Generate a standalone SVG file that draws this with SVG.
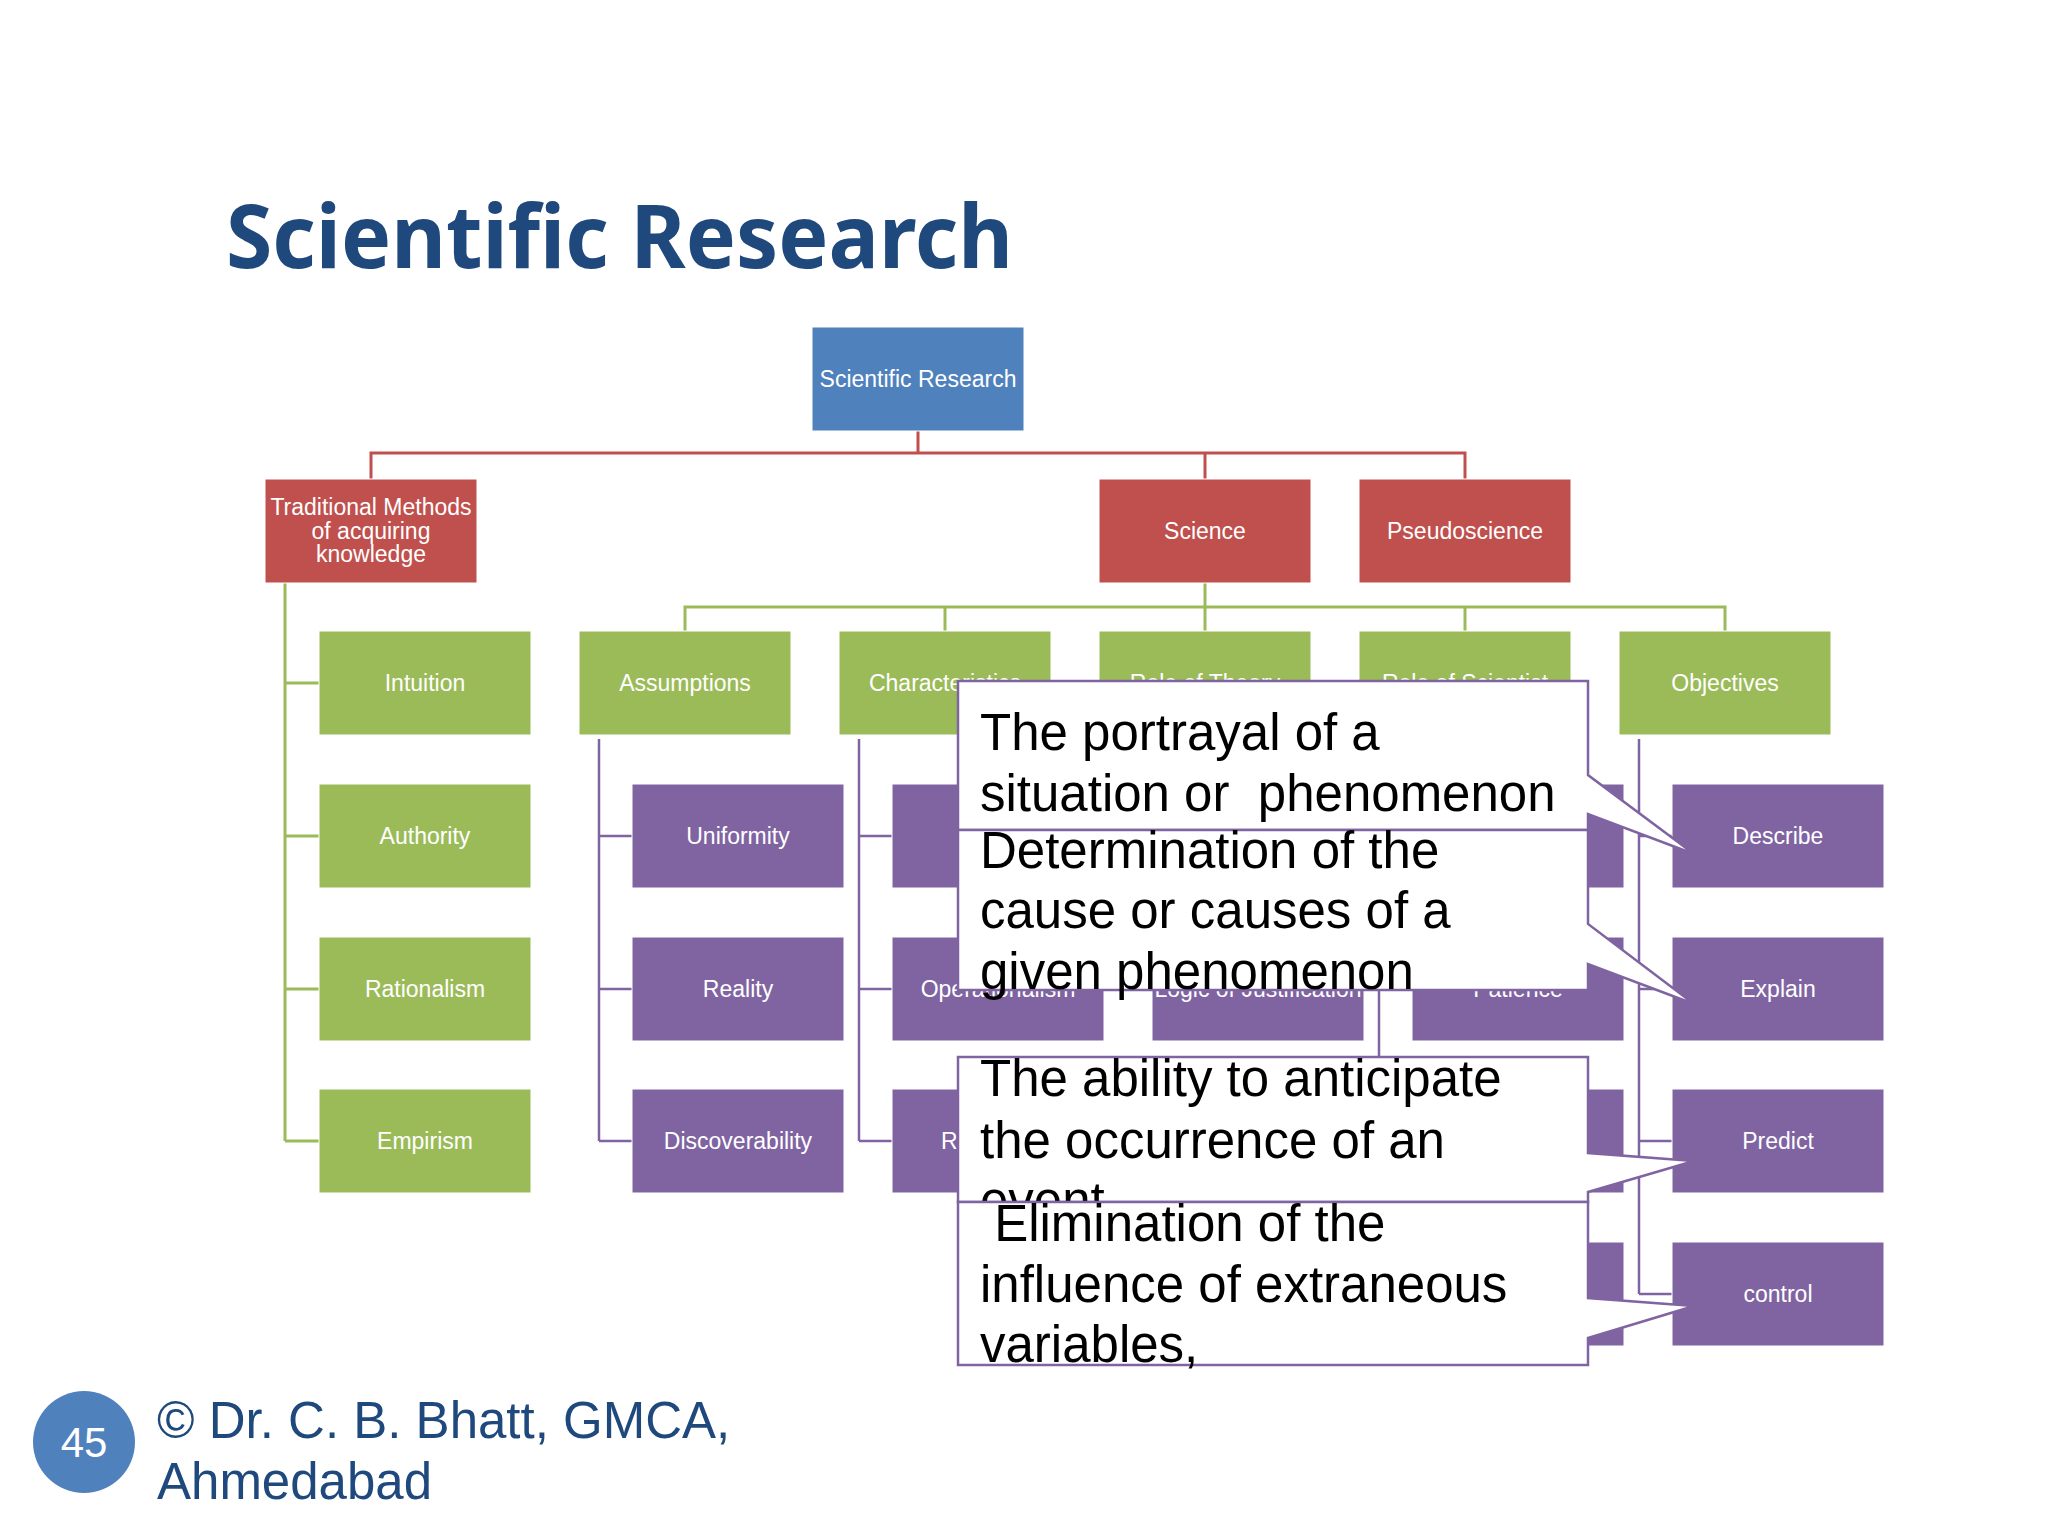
<svg xmlns="http://www.w3.org/2000/svg" width="2048" height="1536" viewBox="0 0 2048 1536">
<style>
.bx{stroke:#ffffff;stroke-width:1}
.blue{fill:#4F81BD}
.red{fill:#C0504D}
.green{fill:#9BBB59}
.purple{fill:#8064A2}
.lbl{font-family:"Liberation Sans",Arial,sans-serif;font-size:23px;fill:#ffffff;text-anchor:middle}
.cr{fill:none;stroke:#C0504D;stroke-width:3}
.cg{fill:none;stroke:#9BBB59;stroke-width:3}
.cp{fill:none;stroke:#8064A2;stroke-width:2.5}
.call{fill:#ffffff;stroke:#8064A2;stroke-width:2.5;stroke-linejoin:miter}
.ct{font-family:"Liberation Sans",Arial,sans-serif;font-size:51px;fill:#000000}
</style>
<rect x="0" y="0" width="2048" height="1536" fill="#ffffff"/>
<text x="226" y="268" font-family="'Noto Sans','Open Sans',sans-serif" font-weight="bold" font-size="88" fill="#1F497D" textLength="787" lengthAdjust="spacingAndGlyphs">Scientific Research</text>

<g id="connectors">
  <path class="cr" d="M918 430 V453 M371 479 V453 H1465 V479 M1205 453 V479"/>
  <path class="cg" d="M1205 583 V607 M685 631 V607 H1725 V631 M945 607 V631 M1205 607 V631 M1465 607 V631"/>
  <path class="cg" d="M285 583 V1141 M285 683 H319 M285 836 H319 M285 989 H319 M285 1141 H319"/>
  <path class="cp" d="M599 739 V1141 M599 836 H632 M599 989 H632 M599 1141 H632"/>
  <path class="cp" d="M859 739 V1141 M859 836 H892 M859 989 H892 M859 1141 H892"/>
  <path class="cp" d="M1379 739 V1294 M1379 836 H1412 M1379 989 H1412 M1379 1141 H1412 M1379 1294 H1412"/>
  <path class="cp" d="M1639 739 V1294 M1639 836 H1672 M1639 989 H1672 M1639 1141 H1672 M1639 1294 H1672"/>
</g>

<g id="n-scientific-research"><rect class="bx blue" x="812" y="327" width="212" height="104"/><text class="lbl" x="918" y="387">Scientific Research</text></g>
<g id="n-traditional"><rect class="bx red" x="265" y="479" width="212" height="104"/><text class="lbl" x="371" y="515">Traditional Methods<tspan x="371" dy="23.5">of acquiring</tspan><tspan x="371" dy="23.5">knowledge</tspan></text></g>
<g id="n-science"><rect class="bx red" x="1099" y="479" width="212" height="104"/><text class="lbl" x="1205" y="539">Science</text></g>
<g id="n-pseudoscience"><rect class="bx red" x="1359" y="479" width="212" height="104"/><text class="lbl" x="1465" y="539">Pseudoscience</text></g>

<g id="n-intuition"><rect class="bx green" x="319" y="631" width="212" height="104"/><text class="lbl" x="425" y="691">Intuition</text></g>
<g id="n-authority"><rect class="bx green" x="319" y="784" width="212" height="104"/><text class="lbl" x="425" y="844">Authority</text></g>
<g id="n-rationalism"><rect class="bx green" x="319" y="937" width="212" height="104"/><text class="lbl" x="425" y="997">Rationalism</text></g>
<g id="n-empirism"><rect class="bx green" x="319" y="1089" width="212" height="104"/><text class="lbl" x="425" y="1149">Empirism</text></g>

<g id="n-assumptions"><rect class="bx green" x="579" y="631" width="212" height="104"/><text class="lbl" x="685" y="691">Assumptions</text></g>
<g id="n-characteristics"><rect class="bx green" x="839" y="631" width="212" height="104"/><text class="lbl" x="945" y="691">Characteristics</text></g>
<g id="n-role-theory"><rect class="bx green" x="1099" y="631" width="212" height="104"/><text class="lbl" x="1205" y="691">Role of Theory</text></g>
<g id="n-role-scientist"><rect class="bx green" x="1359" y="631" width="212" height="104"/><text class="lbl" x="1465" y="691">Role of Scientist</text></g>
<g id="n-objectives"><rect class="bx green" x="1619" y="631" width="212" height="104"/><text class="lbl" x="1725" y="691">Objectives</text></g>

<g id="n-uniformity"><rect class="bx purple" x="632" y="784" width="212" height="104"/><text class="lbl" x="738" y="844">Uniformity</text></g>
<g id="n-reality"><rect class="bx purple" x="632" y="937" width="212" height="104"/><text class="lbl" x="738" y="997">Reality</text></g>
<g id="n-discoverability"><rect class="bx purple" x="632" y="1089" width="212" height="104"/><text class="lbl" x="738" y="1149">Discoverability</text></g>

<g id="n-char-1"><rect class="bx purple" x="892" y="784" width="212" height="104"/></g>
<g id="n-operationalism"><rect class="bx purple" x="892" y="937" width="212" height="104"/><text class="lbl" x="998" y="997">Operationalism</text></g>
<g id="n-replication"><rect class="bx purple" x="892" y="1089" width="212" height="104"/><text class="lbl" x="998" y="1149">Replication</text></g>

<g id="n-logic"><rect class="bx purple" x="1152" y="937" width="212" height="104"/><text class="lbl" x="1258" y="997" font-size="22">Logic of Justification</text></g>

<g id="n-sci-1"><rect class="bx purple" x="1412" y="784" width="212" height="104"/></g>
<g id="n-patience"><rect class="bx purple" x="1412" y="937" width="212" height="104"/><text class="lbl" x="1518" y="997">Patience</text></g>
<g id="n-sci-3"><rect class="bx purple" x="1412" y="1089" width="212" height="104"/></g>
<g id="n-sci-4"><rect class="bx purple" x="1412" y="1242" width="212" height="104"/></g>

<g id="n-describe"><rect class="bx purple" x="1672" y="784" width="212" height="104"/><text class="lbl" x="1778" y="844">Describe</text></g>
<g id="n-explain"><rect class="bx purple" x="1672" y="937" width="212" height="104"/><text class="lbl" x="1778" y="997">Explain</text></g>
<g id="n-predict"><rect class="bx purple" x="1672" y="1089" width="212" height="104"/><text class="lbl" x="1778" y="1149">Predict</text></g>
<g id="n-control"><rect class="bx purple" x="1672" y="1242" width="212" height="104"/><text class="lbl" x="1778" y="1302">control</text></g>

<g id="callout-describe">
  <path class="call" d="M958 681 H1588 V775 L1694 854 L1588 814 V830 H958 Z"/>
  <text class="ct" x="980" y="750">The portrayal of a<tspan x="980" y="811" xml:space="preserve">situation or  phenomenon</tspan></text>
</g>
<g id="callout-explain">
  <path class="call" d="M958 830 H1588 V924 L1694 1004 L1588 964 V990 H958 Z"/>
  <text class="ct" x="980" y="868">Determination of the<tspan x="980" y="928">cause or causes of a</tspan><tspan x="980" y="989">given phenomenon</tspan></text>
</g>
<g id="callout-predict">
  <path class="call" d="M958 1057 H1588 V1153 L1694 1161 L1588 1192 V1202 H958 Z"/>
  <text class="ct" x="980" y="1096">The ability to anticipate<tspan x="980" y="1158">the occurrence of an</tspan><tspan x="980" y="1218">event</tspan></text>
</g>
<g id="callout-control">
  <path class="call" d="M958 1202 H1588 V1298 L1694 1306 L1588 1338 V1365 H958 Z"/>
  <text class="ct" x="980" y="1241" xml:space="preserve"> Elimination of the<tspan x="980" y="1302">influence of extraneous</tspan><tspan x="980" y="1362">variables,</tspan></text>
</g>

<g id="footer">
  <circle cx="84" cy="1442" r="51" fill="#4F81BD"/>
  <text x="84" y="1457" font-family="'Liberation Sans',Arial,sans-serif" font-size="42" fill="#ffffff" text-anchor="middle">45</text>
  <text x="157" y="1438" font-family="'Liberation Sans',Arial,sans-serif" font-size="51" fill="#1F497D">© Dr. C. B. Bhatt, GMCA,<tspan x="157" y="1499">Ahmedabad</tspan></text>
</g>
</svg>
